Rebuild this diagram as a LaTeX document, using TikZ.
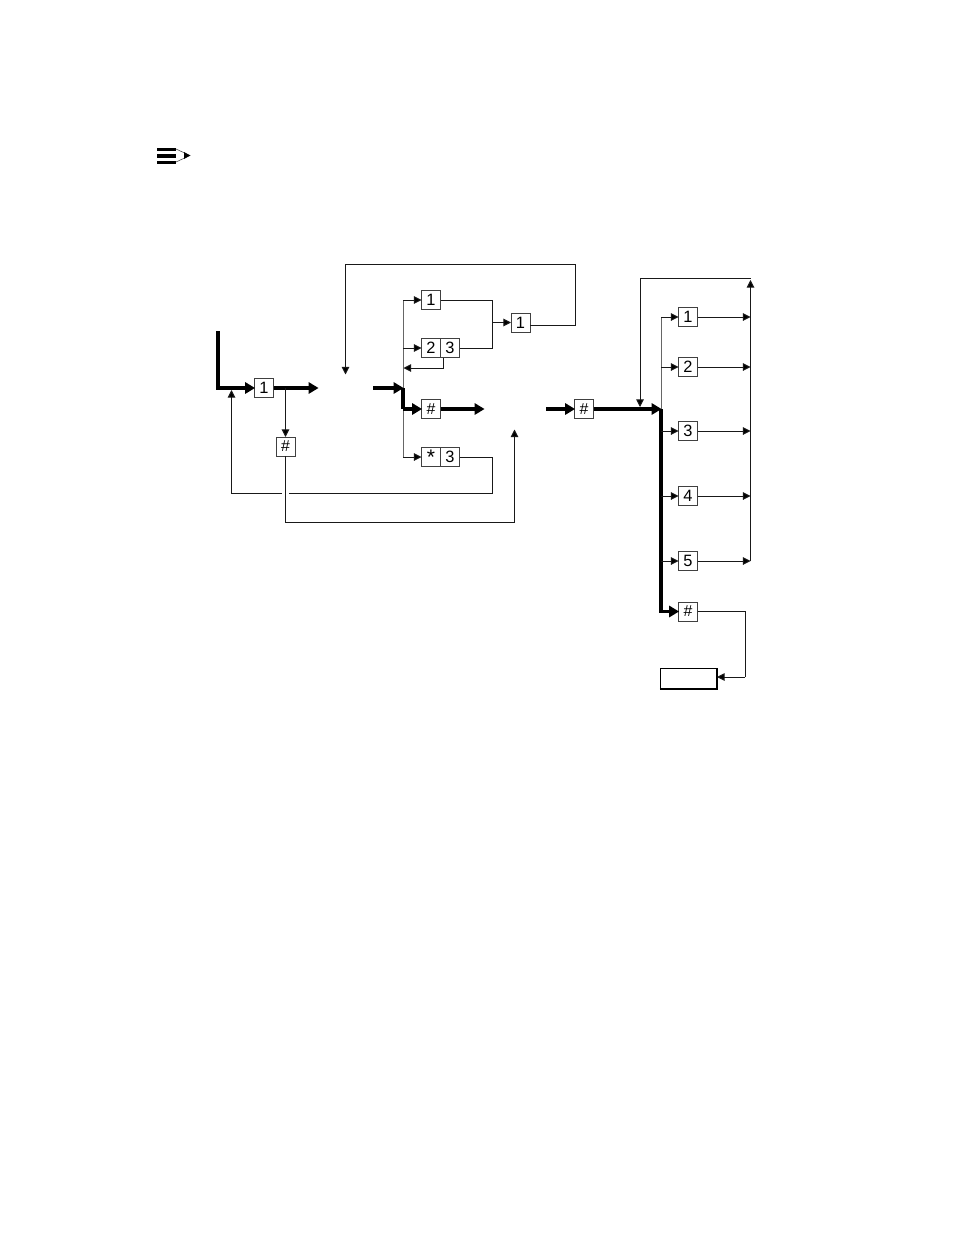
\documentclass[tikz,border=0pt]{standalone}
\usepackage{fontspec}
\setmainfont{Liberation Sans}
\usetikzlibrary{arrows.meta}
\tikzset{
  x=0.03cm,y=-0.03cm,
  keybox/.style={draw=black!75,line width=0.85pt,fill=white,minimum width=0.57cm,minimum height=0.57cm,inner sep=0pt,outer sep=0pt,font=\fontsize{14}{14}\selectfont},
  hashbox/.style={keybox,font=\fontsize{13.5}{13.5}\selectfont},
  thin line/.style={line width=0.85pt,draw=black!90},
  thin arrow/.style={thin line,-{Triangle[length=6.5pt,width=6.5pt,fill=black]}},
  thick line/.style={line width=2.8pt,draw=black},
  thick arrow/.style={thick line,-{Triangle[length=8.5pt,width=9.5pt,fill=black]},shorten >=-0.5pt},
}
\begin{document}
\begin{tikzpicture}
\useasboundingbox (0,0) rectangle (954,1235);
% note icon
\fill (157,148) rectangle (176,151);
\fill (157,154.3) rectangle (176,157.7);
\fill (157,161) rectangle (176,163.5);
\draw[line width=0.5pt,black!70] (176,149) -- (190,155.5) -- (176,162);
\fill (184,152) -- (190,155.5) -- (184,159) -- cycle;
% boxes
\node[keybox] (a1) at (264,388) {1};
\node[hashbox] (ah) at (285.5,446.5) {\#};
\node[keybox] (b1) at (431,300) {1};
\node[keybox] (b2) at (431,348) {2};
\node[keybox] (b3) at (450,348) {3};
\node[keybox] (c1) at (520.5,322.5) {1};
\node[hashbox] (bh) at (431,409) {\#};
\node[keybox,font=\fontsize{18}{18}\selectfont] (bs) at (431,457) {\raisebox{-0.22em}{*}};
\node[keybox] (bt) at (450,457) {3};
\node[hashbox] (dh) at (584,409) {\#};
\node[keybox] (e1) at (688,317) {1};
\node[keybox] (e2) at (688,367) {2};
\node[keybox] (e3) at (688,431) {3};
\node[keybox] (e4) at (688,496) {4};
\node[keybox] (e5) at (688,561) {5};
\node[hashbox] (eh) at (688,611.5) {\#};
\node[draw=black,line width=1.1pt,fill=white,minimum width=1.68cm,minimum height=0.58cm,inner sep=0pt] (endbox) at (688.5,678.5) {};
\draw[line width=1.5pt] (endbox.south west) -- (endbox.south east) -- (endbox.north east);
% free ends
\coordinate (start) at (218,331);
\coordinate (aout) at (318,388);
\coordinate (aj) at (285.5,388);
\coordinate (bin) at (373,388);
\coordinate (bbus) at (403,388);
\coordinate (bbot) at (403,409);
\coordinate (bhout) at (484,409);
\coordinate (din) at (546,409);
\coordinate (ebus) at (661,409);
\coordinate (topend) at (345.5,374.5);
\coordinate (resume) at (514.5,429.5);
\coordinate (rbus) at (750.5,280);
\coordinate (c1out) at (530,325);
\coordinate (endin) at (717,677);
\coordinate (b3low) at (443.5,357.5);
% left thick path
\draw[thick arrow] (start) |- (a1.west);
\draw[thick arrow] (a1.east) -- (aout);
\draw[thin arrow] (aj) -- (ah.north);
% returns
\draw[thin arrow] (bt.east) -- (492.5,457) -- (492.5,493) -- (231.5,493) -- (231.5,390);
\draw[white,line width=3.5pt] (282,493) -- (289,493);
\draw[thin arrow] (ah.south) -- (285.5,522) -- (514.5,522) -- (resume);
% upper block
\draw[thin line,draw=black!60] (403,300) -- (403,457);
\draw[thin arrow] (403,300) -- (b1.west);
\draw[thin arrow] (403,348) -- (b2.west);
\draw[thin arrow] (b3low) -- (443.5,368) -- (403.5,368);
\draw[thin arrow] (403,457) -- (bs.west);
\draw[thin line] (b1.east) -- (492.5,300) -- (492.5,348) -- (b3.east);
\draw[thin arrow] (492.5,322.5) -- (c1.west);
\draw[thin arrow,-] (c1out) -- (575,325) -- (575,264) -- (345.5,264);
\draw[thin arrow] (345.5,264) -- (topend);
% middle thick
\draw[thick arrow] (bin) -- (bbus);
\draw[thick line] (bbus) -- (bbot);
\draw[thick arrow] (bbot) -- (bh.west);
\draw[thick arrow] (bh.east) -- (bhout);
\draw[thick arrow] (din) -- (dh.west);
\draw[thick arrow] (dh.east) -- (ebus);
% right block
\draw[thin arrow] (750.5,278) -- (640,278) -- (640,407);
\draw[thin line,draw=black!60] (661,317) -- (661,409);
\draw[thick arrow] (ebus) -- (661,611.5) -- (eh.west);
\foreach \n/\y in {e1/317,e2/367,e3/431,e4/496,e5/561}{
  \draw[thin arrow] (661,\y) -- (\n.west);
  \draw[thin arrow] (\n.east) -- (750.5,\y);
}
\draw[thin arrow] (750.5,561) -- (rbus);
\draw[thin line] (eh.east) -- (745,611.5) -- (745,677);
\draw[thin arrow] (745,677) -- (endin);
\end{tikzpicture}
\end{document}
